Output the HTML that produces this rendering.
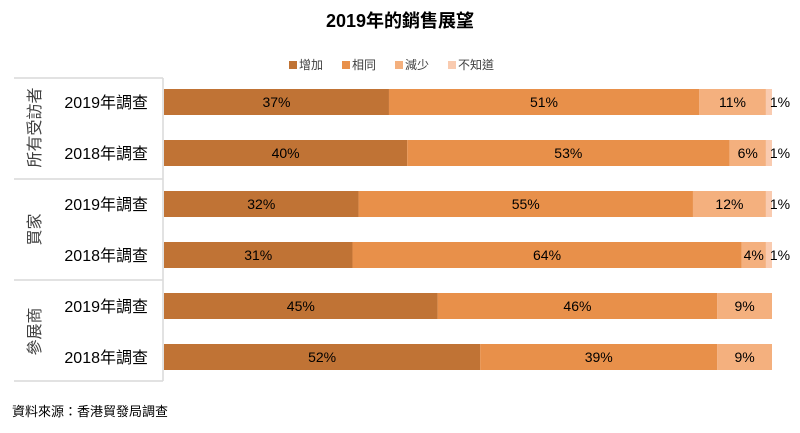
<!DOCTYPE html>
<html><head><meta charset="utf-8"><style>
body{margin:0;background:#fff;}
svg text{font-family:"Liberation Sans","Noto Sans CJK TC",sans-serif;}
</style></head><body>
<svg width="800" height="428" xmlns="http://www.w3.org/2000/svg">
<text x="400" y="27" text-anchor="middle" font-size="18" font-weight="bold" fill="#000">2019年的銷售展望</text>
<g id="legend"></g>
<g id="frame" stroke="#d9d9d9" stroke-width="1.5">
<line x1="14" y1="78" x2="163" y2="78"/><line x1="14" y1="179" x2="163" y2="179"/>
<line x1="14" y1="280" x2="163" y2="280"/><line x1="14" y1="381" x2="163" y2="381"/>
<line x1="163" y1="78" x2="163" y2="381"/>
</g>
<g id="labels"></g>
<g id="bars"></g>
<text x="12" y="416" font-size="13" fill="#000">資料來源：香港貿發局調查</text>
</svg>
<script>
const series=["增加","相同","減少","不知道"];
const colors=["#c07335","#e8904a","#f4b07e","#f9cbb0"];
const rowLabels=["2019年調查","2018年調查","2019年調查","2018年調查","2019年調查","2018年調查"];
const groups=["所有受訪者","買家","參展商"];
const increase=[37,40,32,31,45,52];
const same=[51,53,55,64,46,39];
const decrease=[11,6,12,4,9,9];
const unknown=[1,1,1,1,0,0];
const NS="http://www.w3.org/2000/svg";
const x0=164,W=608;
const xs=v=>v/100*W;
const yc=i=>102+i*51;
function mk(t,a,p){const e=document.createElementNS(NS,t);for(const k in a)e.setAttribute(k,a[k]);p.appendChild(e);return e;}
const leg=document.getElementById('legend');
const legX=[289,342,395,448];
series.forEach((s,i)=>{
 const r=mk('rect',{x:legX[i],y:61,width:8,height:8,fill:colors[i]},leg);
 
 
 const t=mk('text',{x:legX[i]+10,y:69,'font-size':12,fill:'#404040'},leg);
 t.textContent=s;
 
 
});
const lab=document.getElementById('labels');
rowLabels.forEach((l,i)=>{
 const t=mk('text',{x:148,y:yc(i)+6,'text-anchor':'end','font-size':16,fill:'#000'},lab);
 t.textContent=l;
 
 
});
groups.forEach((g,i)=>{
 const cy=(yc(2*i)+yc(2*i+1))/2;
 const t=mk('text',{x:0,y:0,'text-anchor':'middle','font-size':16,fill:'#404040',transform:`translate(40,${cy}) rotate(-90)`},lab);
 t.textContent=g;
 
 
});
const bars=document.getElementById('bars');
const data=[increase,same,decrease,unknown];
rowLabels.forEach((_,i)=>{
 let cum=0;
 data.forEach((arr,s)=>{
  const v=arr[i]; if(!v) return;
  const r=mk('rect',{x:x0+xs(cum),y:yc(i)-13,width:xs(v),height:26,fill:colors[s]},bars);
  
  
  const cx=s===3?x0+xs(cum)+xs(v)+8:x0+xs(cum)+xs(v)/2;
  const t=mk('text',{x:cx,y:yc(i)+5,'text-anchor':'middle','font-size':14,fill:'#000'},bars);
  t.textContent=v+'%';
  
  
  cum+=v;
 });
});
</script>
</body></html>
